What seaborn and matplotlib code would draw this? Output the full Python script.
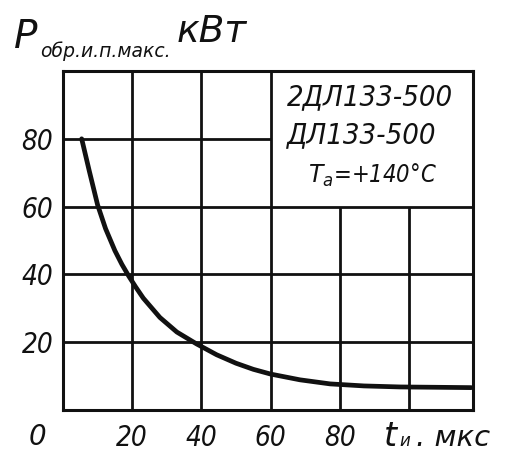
import numpy as np
import pandas as pd
import matplotlib
matplotlib.use("Agg")
import matplotlib.pyplot as plt
import seaborn as sns

# curve
t_us = [5.4, 7.6, 10, 12.3, 15, 17, 19, 21, 23.2, 28, 32.9, 38.6, 44.4, 50, 55, 60,
        68.5, 77.2, 87, 97.4, 108, 118]
p_kw = [80, 70.5, 60.5, 53.5, 47, 43, 39.5, 36.3, 33, 27.3, 23, 19.5, 16.3, 13.8, 12, 10.6,
        8.9, 7.7, 7.1, 6.8, 6.7, 6.6]

x_ticks = [20, 40, 60, 80, 100]
x_labels = ["20", "40", "60", "80", ""]
y_ticks = [20, 40, 60, 80]
y_labels = ["20", "40", "60", "80"]

# grid lines: (position, from, to)
v_grid = [(20, 0, 100), (40, 0, 100), (60, 0, 100), (80, 0, 60), (100, 0, 60)]
h_grid = [(20, 0, 118.5), (40, 0, 118.5), (60, 0, 118.5), (80, 0, 60)]

box_lines = ["2ДЛ133-500", "ДЛ133-500"]

sns.set_style("white")
plt.rcParams["font.family"] = ["DejaVu Sans"]
ink = "#111111"

fig = plt.figure(figsize=(5.08, 4.55), dpi=100)
ax = fig.add_axes([63 / 508, 45 / 455, 410 / 508, 339 / 455])

for x, y0, y1 in v_grid:
    ax.vlines(x, y0, y1, color=ink, lw=2.0)
for y, x0, x1 in h_grid:
    ax.hlines(y, x0, x1, color=ink, lw=2.0)

df = pd.DataFrame({"t": t_us, "p": p_kw})
sns.lineplot(data=df, x="t", y="p", ax=ax, color=ink, lw=3.4, sort=False)

ax.set_xlim(0, 118.5)
ax.set_ylim(0, 100)
ax.set_xticks(x_ticks)
ax.set_xticklabels(x_labels)
ax.set_yticks(y_ticks)
ax.set_yticklabels(y_labels)
ax.set_xlabel("")
ax.set_ylabel("")
ax.tick_params(length=0, labelsize=20, colors=ink)
ax.tick_params(axis="x", pad=10)
ax.tick_params(axis="y", pad=7)
for lab in ax.get_xticklabels() + ax.get_yticklabels():
    lab.set_style("italic")
    lab.set_stretch("condensed")
for sp in ax.spines.values():
    sp.set_visible(True)
    sp.set_color(ink)
    sp.set_linewidth(2.2)

# label box text
ax.text(64.7, 92.3, box_lines[0], fontsize=21, style="italic", stretch="condensed",
        color=ink, va="center", ha="left")
ax.text(64.7, 81.1, box_lines[1], fontsize=21, style="italic", stretch="condensed",
        color=ink, va="center", ha="left")
ax.text(70.8, 69.3, r"$T_{a}$=+140°C", fontsize=17, style="italic", stretch="condensed",
        color=ink, va="center", ha="left")

# origin label
fig.text(37 / 508, 1 - 437 / 455, "0", fontsize=20, style="italic", color=ink,
         ha="center", va="center")

# x axis title
fig.text(384 / 508, 1 - 446 / 455, "t", fontsize=24, style="italic", color=ink, va="baseline")
fig.text(399 / 508, 1 - 446 / 455, "и", fontsize=12, style="italic", color=ink, va="baseline")
fig.text(416 / 508, 1 - 446 / 455, ". мкс", fontsize=21, style="italic", color=ink, va="baseline")

# y axis title
fig.text(14 / 508, 1 - 48 / 455, "P", fontsize=28, style="italic", color=ink, va="baseline")
fig.text(40 / 508, 1 - 57 / 455, "обр.и.п.макс.", fontsize=13.5, style="italic", color=ink,
         va="baseline")
fig.text(177 / 508, 1 - 42 / 455, "кВт", fontsize=27, style="italic", color=ink, va="baseline")

fig.savefig("out.png", dpi=100, facecolor="white")
